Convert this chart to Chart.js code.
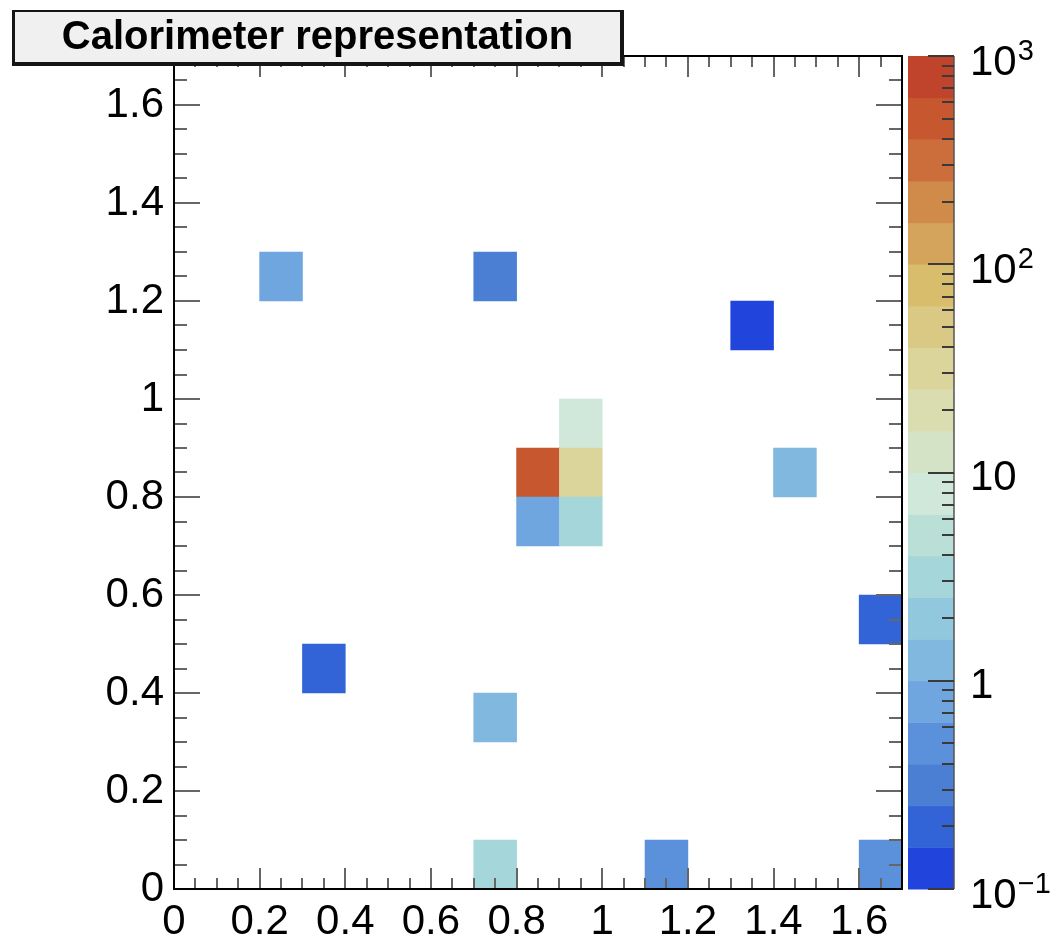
<!DOCTYPE html>
<html>
<head>
<meta charset="utf-8">
<title>Calorimeter representation</title>
<script src="https://cdn.jsdelivr.net/npm/chart.js@4.4.1/dist/chart.umd.min.js"></script>
<style>
  html, body { margin: 0; padding: 0; background: #fff; }
  #wrap { width: 1055px; height: 942px; }
</style>
</head>
<body>
<div id="wrap"><canvas id="calo" width="1055" height="942"></canvas></div>
<script>
// Hit cells: lower edge of each 0.1 x 0.1 bin and the energy deposited in it
const cellX = [0.2, 0.7, 1.3, 0.9, 0.8, 0.9, 0.8, 0.9, 1.4, 1.6, 0.3, 0.7, 0.7, 1.1, 1.6];
const cellY = [1.2, 1.2, 1.1, 0.9, 0.8, 0.8, 0.7, 0.7, 0.8, 0.5, 0.4, 0.3, 0.0, 0.0, 0.0];
const cellE = [0.8, 0.3, 0.12, 8, 500, 32, 0.8, 3, 1.3, 0.2, 0.2, 1.3, 3, 0.5, 0.5];
const BIN = 0.1;

// Axis ranges and labelled ticks
const AXIS_MAX = 1.7;
const axisTicks = [0, 0.2, 0.4, 0.6, 0.8, 1, 1.2, 1.4, 1.6];
const Z_MIN = 0.1, Z_MAX = 1000;
const zTicks = [0.1, 1, 10, 100, 1000];
const zLabels = [['10', '\u22121'], ['1', ''], ['10', ''], ['10', '2'], ['10', '3']];

// 20 contour colours, lowest level first
const palette = [
  '#2145dc', '#3264d7', '#4a7fd4', '#5b91da', '#70a6e0',
  '#81b8e0', '#91c8de', '#a5d6da', '#badfd7', '#d0e8da',
  '#d4e3c6', '#d9ddb0', '#dcd59b', '#dac885', '#d8bd6c',
  '#d4a45d', '#d08a49', '#cc6e3c', '#c7572f', '#c0432b'
];

const FONT = "'Liberation Sans', Arial, Helvetica, sans-serif";
const logMin = Math.log10(Z_MIN), logSpan = Math.log10(Z_MAX) - logMin;

function levelColor(e) {
  const k = Math.floor((Math.log10(e) - logMin) / (logSpan / palette.length));
  return palette[Math.max(0, Math.min(palette.length - 1, k))];
}

function line(ctx, x1, y1, x2, y2) {
  ctx.beginPath();
  ctx.moveTo(x1, y1);
  ctx.lineTo(x2, y2);
  ctx.stroke();
}

// Frame, inward ticks on all four sides, colour scale and the title box
const decorations = {
  id: 'decorations',
  afterDatasetsDraw(chart) {
    const { ctx, chartArea: a, scales: { x, y } } = chart;
    ctx.save();
    ctx.strokeStyle = '#666';
    ctx.lineWidth = 2;
    for (let i = 1; i < 34; i++) {
      const v = i * 0.05;
      const major = i % 4 === 0;
      const px = Math.round(x.getPixelForValue(v));
      const xl = major ? 21 : 11;
      line(ctx, px, a.bottom, px, a.bottom - xl);
      line(ctx, px, a.top, px, a.top + xl);
      const py = Math.round(y.getPixelForValue(v));
      const yl = major ? 26 : 13;
      line(ctx, a.left, py, a.left + yl, py);
      line(ctx, a.right, py, a.right - yl, py);
    }
    ctx.strokeStyle = '#000';
    ctx.lineWidth = 2;
    ctx.strokeRect(a.left, a.top, a.right - a.left, a.bottom - a.top);
    ctx.restore();
  },
  afterDraw(chart) {
    const { ctx, scales: { z } } = chart;
    ctx.save();

    // colour scale
    const left = z.left + 6, right = z.left + 52;
    const step = logSpan / palette.length;
    palette.forEach((c, k) => {
      const top = z.getPixelForValue(Math.pow(10, logMin + (k + 1) * step));
      const bot = z.getPixelForValue(Math.pow(10, logMin + k * step));
      ctx.fillStyle = c;
      ctx.fillRect(left, top, right - left, bot - top + 0.5);
    });
    ctx.strokeStyle = '#555';
    ctx.lineWidth = 1.5;
    line(ctx, right, z.top, right, z.bottom);

    ctx.strokeStyle = '#3a3a3a';
    ctx.lineWidth = 2;
    zTicks.forEach((d, i) => {
      const py = Math.round(z.getPixelForValue(d));
      line(ctx, right, py, right - 26, py);
      if (i < zTicks.length - 1) {
        for (let m = 2; m <= 9; m++) {
          const pm = Math.round(z.getPixelForValue(d * m));
          line(ctx, right, pm, right - 12, pm);
        }
      }
    });

    // colour scale labels with exponents
    ctx.fillStyle = '#000';
    ctx.textAlign = 'left';
    ctx.textBaseline = 'alphabetic';
    zTicks.forEach((d, i) => {
      const [base, sup] = zLabels[i];
      const py = z.getPixelForValue(d);
      const by = py + (sup ? 19 : 17);
      ctx.font = '42px ' + FONT;
      ctx.fillText(base, 970, by);
      if (sup) {
        const w = ctx.measureText(base).width;
        ctx.font = '29px ' + FONT;
        ctx.fillText(sup, 970 + w + 1, by - 15);
      }
    });

    // title box
    ctx.fillStyle = '#151515';
    ctx.fillRect(12, 10, 612, 56);
    ctx.fillStyle = '#f0f0f0';
    ctx.fillRect(15, 12, 605, 50);
    ctx.fillStyle = '#000';
    ctx.textAlign = 'center';
    ctx.font = 'bold 40px ' + FONT;
    ctx.fillText('Calorimeter representation', 317.5, 49);
    ctx.restore();
  }
};

const tickFont = { family: FONT, size: 42 };

new Chart(document.getElementById('calo'), {
  type: 'bar',
  data: {
    datasets: [{
      data: cellX.map((x0, i) => ({ x: +(x0 + BIN / 2).toFixed(2), y: [cellY[i], +(cellY[i] + BIN).toFixed(2)] })),
      backgroundColor: cellE.map(levelColor),
      borderWidth: 0,
      barPercentage: 1,
      categoryPercentage: 1
    }]
  },
  options: {
    responsive: false,
    animation: false,
    events: [],
    layout: { padding: { top: 56, left: 0, right: 0, bottom: 0 } },
    plugins: { legend: { display: false }, tooltip: { enabled: false }, title: { display: false } },
    scales: {
      x: {
        type: 'linear', position: 'bottom', min: 0, max: AXIS_MAX, offset: false,
        grid: { display: false, drawTicks: false, offset: false },
        border: { display: false },
        afterBuildTicks: s => { s.ticks = axisTicks.map(v => ({ value: v })); },
        afterFit: s => { s.height = 53; },
        ticks: { autoSkip: false, maxRotation: 0, padding: 8, color: '#000', font: tickFont, callback: v => String(v) }
      },
      y: {
        type: 'linear', position: 'left', min: 0, max: AXIS_MAX,
        grid: { display: false, drawTicks: false },
        border: { display: false },
        afterBuildTicks: s => { s.ticks = axisTicks.map(v => ({ value: v })); },
        afterFit: s => { s.width = 174; },
        ticks: { autoSkip: false, padding: 10, color: '#000', font: tickFont, callback: v => String(v) }
      },
      z: {
        type: 'logarithmic', position: 'right', min: Z_MIN, max: Z_MAX,
        grid: { display: false, drawTicks: false },
        border: { display: false },
        ticks: { display: false },
        afterFit: s => { s.width = 153; }
      }
    }
  },
  plugins: [decorations]
});
</script>
</body>
</html>
